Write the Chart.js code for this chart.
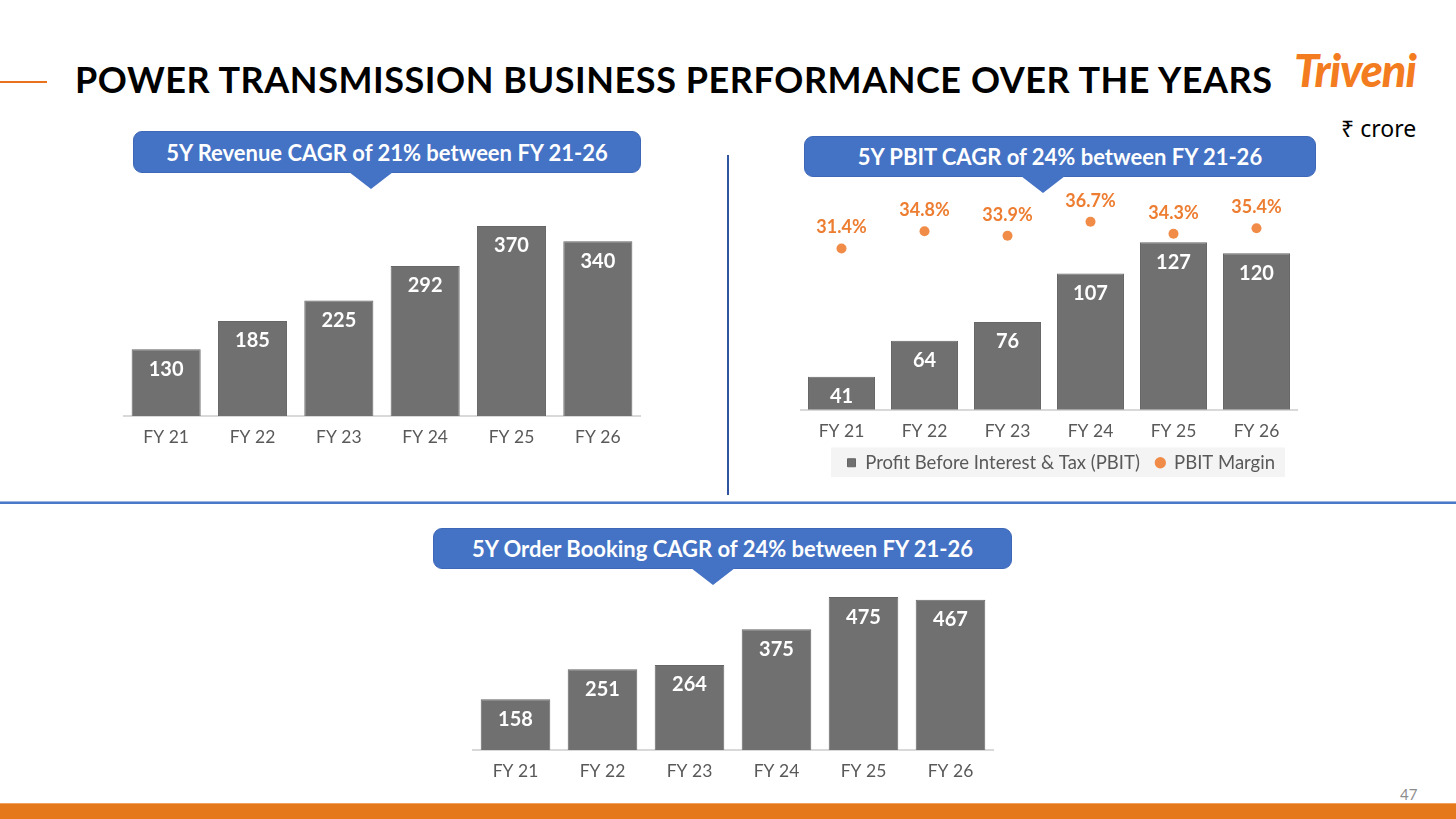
<!DOCTYPE html>
<html>
<head>
<meta charset="utf-8">
<script src="https://cdn.jsdelivr.net/npm/chart.js@4.4.1/dist/chart.umd.min.js"></script>
<style>
  body { margin: 0; width: 1456px; height: 819px; position: relative; background: #fff; overflow: hidden; font-family: Lato, "Noto Sans", sans-serif; }
  .abs { position: absolute; }
  .title { left: 75px; top: 57px; font-size: 36px; letter-spacing: 0.55px; font-weight: 700; color: #000; white-space: nowrap; }
  .logo { left: 1294px; top: 43px; font-size: 45px; font-weight: 900; font-style: italic; color: #f47c20; letter-spacing: -1px; }
  .unit { left: 1341px; top: 112px; font-size: 23px; color: #000; font-family: "Noto Sans", "DejaVu Sans", sans-serif; }
  .callout { position: absolute; background: #4472c4; border: 1px solid #3d68b8; border-radius: 9px; color: #fff; font-weight: 700; font-size: 22px; display: flex; align-items: center; justify-content: center; box-sizing: border-box; }
  .callout::after { content: ''; position: absolute; top: 100%; left: var(--tip); margin-left: -22px; border-left: 22px solid transparent; border-right: 22px solid transparent; border-top: 17px solid #4472c4; }
  .box { position: absolute; }
</style>
</head>
<body>
<div class="abs" style="left:0;top:81px;width:47px;height:2px;background:#e8731c"></div>
<div class="abs title">POWER TRANSMISSION BUSINESS PERFORMANCE OVER THE YEARS</div>
<div class="abs logo">Triveni</div>
<div class="abs unit">₹ crore</div>

<div class="callout" style="left:133px;top:131px;width:508px;height:42px;--tip:237px">5Y Revenue CAGR of 21% between FY 21-26</div>
<div class="callout" style="left:804px;top:136px;width:512px;height:41px;--tip:238px">5Y PBIT CAGR of 24% between FY 21-26</div>
<div class="callout" style="left:433px;top:528px;width:579px;height:41px;--tip:279px">5Y Order Booking CAGR of 24% between FY 21-26</div>

<div class="abs" style="left:727px;top:155px;width:2px;height:340px;background:#2f55a0"></div>
<div class="abs" style="left:0;top:501px;width:1456px;height:1px;background:#9db5e0"></div>
<div class="abs" style="left:0;top:502px;width:1456px;height:2px;background:#4a78c8"></div>

<div class="box" style="left:123px;top:210px;width:518px;height:246px"><canvas id="revenueChart"></canvas></div>
<div class="box" style="left:800px;top:185px;width:498px;height:297px"><canvas id="pbitChart"></canvas></div>
<div class="box" style="left:472px;top:590px;width:522px;height:200px"><canvas id="orderChart"></canvas></div>

<div class="abs" style="left:1400px;top:785px;font-size:15px;color:#8c8c8c">47</div>
<div class="abs" style="left:0;top:803px;width:1456px;height:1px;background:#f0a060"></div>
<div class="abs" style="left:0;top:804px;width:1456px;height:15px;background:#e4781a"></div>

<script>
var years = ['FY 21', 'FY 22', 'FY 23', 'FY 24', 'FY 25', 'FY 26'];
var revenue = [130, 185, 225, 292, 370, 340];
var pbit = [41, 64, 76, 107, 127, 120];
var pbitMargin = [31.4, 34.8, 33.9, 36.7, 34.3, 35.4];
var orderBooking = [158, 251, 264, 375, 475, 467];

var barGrey = '#707070';
var orange = '#ed7d31';
var legendShift = 12;

// labels inside the bars and above the margin dots
var valueLabels = {
    id: 'valueLabels',
    afterDatasetsDraw: function (chart) {
        var ctx = chart.ctx;
        chart.data.datasets.forEach(function (ds, i) {
            var meta = chart.getDatasetMeta(i);
            meta.data.forEach(function (el, j) {
                ctx.save();
                ctx.textAlign = 'center';
                ctx.textBaseline = 'middle';
                if (meta.type === 'bar') {
                    ctx.font = 'bold 20px Lato';
                    ctx.fillStyle = '#fff';
                    var h = el.base - el.y;
                    ctx.fillText(ds.data[j], el.x, el.y + Math.min(20, h / 2));
                } else {
                    ctx.font = 'bold 18px Lato';
                    ctx.fillStyle = orange;
                    ctx.fillText(ds.data[j].toFixed(1) + '%', el.x, el.y - 21);
                }
                ctx.restore();
            });
        });
    }
};

// nudge the legend a bit right and give it a light grey box
var legendBg = {
    id: 'legendBg',
    afterLayout: function (chart) {
        var lg = chart.legend;
        if (!lg) return;
        lg.left += legendShift;
        lg.right += legendShift;
    },
    beforeDraw: function (chart) {
        var lg = chart.legend;
        if (!lg || !lg.lineWidths) return;
        var pad = lg.options.labels.padding;
        var fontSize = lg.options.labels.font.size;
        var lineW = lg.lineWidths[0];
        var l = (lg.left + lg.right + pad - lineW) / 2;
        var t = lg.top + pad;
        chart.ctx.save();
        chart.ctx.fillStyle = '#f4f4f4';
        chart.ctx.fillRect(l - 16, t - 6, lineW - pad + 26, fontSize + 11);
        chart.ctx.restore();
    }
};

function xAxis(h) {
    return {
        grid: { display: false, drawTicks: false },
        border: { display: true, color: '#d9d9d9', width: 2 },
        ticks: { color: '#595959', font: { family: 'Lato', size: 17.5 }, padding: 11 },
        afterFit: function (scale) { scale.height = h; }
    };
}

function createBarChart(id, values, yMax) {
    return new Chart(document.getElementById(id).getContext('2d'), {
        type: 'bar',
        data: {
            labels: years,
            datasets: [{ data: values, backgroundColor: barGrey, borderColor: '#666', borderWidth: 1, barPercentage: 0.8, categoryPercentage: 1 }]
        },
        options: {
            responsive: true,
            maintainAspectRatio: false,
            animation: false,
            layout: { padding: 0, autoPadding: false },
            plugins: { legend: { display: false }, tooltip: { enabled: false } },
            scales: {
                x: xAxis(40),
                y: { display: false, min: 0, max: yMax }
            }
        },
        plugins: [valueLabels]
    });
}

createBarChart('revenueChart', revenue, 401);
createBarChart('orderChart', orderBooking, 497);

new Chart(document.getElementById('pbitChart').getContext('2d'), {
    type: 'bar',
    data: {
        labels: years,
        datasets: [
            {
                label: 'Profit Before Interest & Tax (PBIT)',
                data: pbit,
                backgroundColor: barGrey,
                borderColor: '#666',
                borderWidth: 1,
                barPercentage: 0.807,
                categoryPercentage: 1,
                pointStyle: 'rect',
                yAxisID: 'y'
            },
            {
                type: 'line',
                label: 'PBIT Margin',
                data: pbitMargin,
                showLine: false,
                pointRadius: 5,
                pointStyle: 'circle',
                backgroundColor: '#f08c48',
                borderColor: '#f08c48',
                pointBorderWidth: 0,
                yAxisID: 'y1'
            }
        ]
    },
    options: {
        responsive: true,
        maintainAspectRatio: false,
        animation: false,
        layout: { padding: { top: 15 }, autoPadding: false },
        plugins: {
            tooltip: { enabled: false },
            legend: {
                position: 'bottom',
                labels: {
                    usePointStyle: true,
                    boxHeight: 8,
                    boxWidth: 9,
                    padding: 16,
                    color: '#595959',
                    font: { family: 'Lato', size: 18.5 }
                }
            }
        },
        scales: {
            x: xAxis(28),
            y: { display: false, min: 20, max: 154 },
            y1: { display: false, min: -0.61, max: 41.02 }
        }
    },
    plugins: [legendBg, valueLabels]
});
</script>
</body>
</html>
